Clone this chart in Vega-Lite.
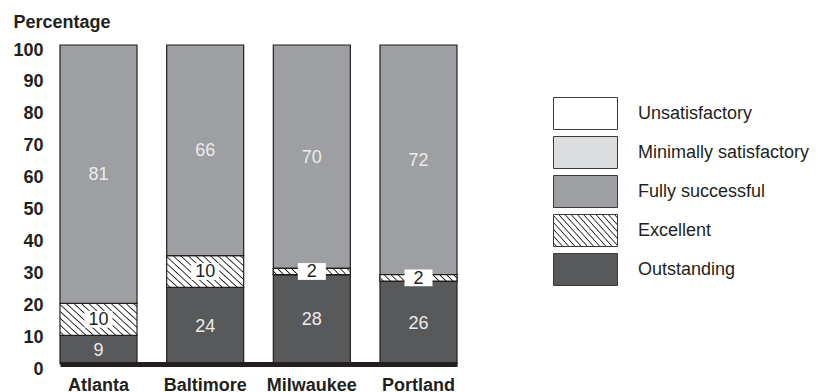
{
  "$schema": "https://vega.github.io/schema/vega-lite/v6.json",
  "autosize": {"type": "none"},
  "padding": {"left": 60, "top": 45, "right": 362, "bottom": 28},
  "width": 397,
  "height": 319,
  "config": {"view": {"stroke": null}, "font": "Liberation Sans", "axisY": {"labelOverlap": false}},
  "data": {
    "values": [
      {"city": "Atlanta", "rating": "Outstanding", "value": 9, "rank": 1},
      {"city": "Atlanta", "rating": "Excellent", "value": 10, "rank": 2},
      {"city": "Atlanta", "rating": "Fully successful", "value": 81, "rank": 3},
      {"city": "Baltimore", "rating": "Outstanding", "value": 24, "rank": 1},
      {"city": "Baltimore", "rating": "Excellent", "value": 10, "rank": 2},
      {"city": "Baltimore", "rating": "Fully successful", "value": 66, "rank": 3},
      {"city": "Milwaukee", "rating": "Outstanding", "value": 28, "rank": 1},
      {"city": "Milwaukee", "rating": "Excellent", "value": 2, "rank": 2},
      {"city": "Milwaukee", "rating": "Fully successful", "value": 70, "rank": 3},
      {"city": "Portland", "rating": "Outstanding", "value": 26, "rank": 1},
      {"city": "Portland", "rating": "Excellent", "value": 2, "rank": 2},
      {"city": "Portland", "rating": "Fully successful", "value": 72, "rank": 3}
    ]
  },
  "transform": [
    {"stack": "value", "groupby": ["city"], "sort": [{"field": "rank", "order": "ascending"}], "as": ["y0", "y1"]},
    {"calculate": "(datum.y0 + datum.y1) / 2", "as": "ymid"}
  ],
  "encoding": {
    "x": {
      "field": "city", "type": "nominal",
      "sort": ["Atlanta", "Baltimore", "Milwaukee", "Portland"],
      "scale": {"paddingInner": 0.278, "paddingOuter": 0},
      "axis": {
        "title": null, "labelAngle": 0, "labelFontWeight": "bold", "labelFontSize": 18,
        "labelColor": "#231f20", "ticks": false, "labelPadding": 12,
        "domainColor": "#231f20", "domainWidth": 5, "zindex": 1
      }
    }
  },
  "layer": [
    {
      "mark": {"type": "bar", "stroke": "#231f20", "strokeWidth": 1.2},
      "encoding": {
        "y": {
          "field": "y0", "type": "quantitative",
          "scale": {"domain": [0, 100]},
          "axis": {
            "title": "Percentage", "titleAngle": 0, "titleAlign": "left", "titleBaseline": "alphabetic",
            "titleX": -47, "titleY": -18, "titleFontSize": 18, "titleFontWeight": "bold", "titleColor": "#231f20",
            "labelFontWeight": "bold", "labelFontSize": 18, "labelColor": "#231f20", "labelOverlap": false,
            "ticks": false, "domain": false, "grid": false, "labelPadding": 17, "labelOffset": 5, "tickCount": 11,
            "labelFlush": false, "values": [0, 10, 20, 30, 40, 50, 60, 70, 80, 90, 100]
          }
        },
        "y2": {"field": "y1"},
        "color": {
          "field": "rating", "type": "nominal",
          "scale": {
            "domain": ["Unsatisfactory", "Minimally satisfactory", "Fully successful", "Excellent", "Outstanding"],
            "range": ["#ffffff", "#dcddde", "#9e9fa2",
              {"expr": "{gradient: 'linear', x1: 0, y1: 1, x2: 1.206, y2: 0.457, stops: [{offset: 0.0213, color: '#ffffff'}, {offset: 0.0333, color: '#231f20'}, {offset: 0.0453, color: '#ffffff'}, {offset: 0.088, color: '#ffffff'}, {offset: 0.1, color: '#231f20'}, {offset: 0.112, color: '#ffffff'}, {offset: 0.1547, color: '#ffffff'}, {offset: 0.1667, color: '#231f20'}, {offset: 0.1787, color: '#ffffff'}, {offset: 0.2213, color: '#ffffff'}, {offset: 0.2333, color: '#231f20'}, {offset: 0.2453, color: '#ffffff'}, {offset: 0.288, color: '#ffffff'}, {offset: 0.3, color: '#231f20'}, {offset: 0.312, color: '#ffffff'}, {offset: 0.3547, color: '#ffffff'}, {offset: 0.3667, color: '#231f20'}, {offset: 0.3787, color: '#ffffff'}, {offset: 0.4213, color: '#ffffff'}, {offset: 0.4333, color: '#231f20'}, {offset: 0.4453, color: '#ffffff'}, {offset: 0.488, color: '#ffffff'}, {offset: 0.5, color: '#231f20'}, {offset: 0.512, color: '#ffffff'}, {offset: 0.5547, color: '#ffffff'}, {offset: 0.5667, color: '#231f20'}, {offset: 0.5787, color: '#ffffff'}, {offset: 0.6213, color: '#ffffff'}, {offset: 0.6333, color: '#231f20'}, {offset: 0.6453, color: '#ffffff'}, {offset: 0.688, color: '#ffffff'}, {offset: 0.7, color: '#231f20'}, {offset: 0.712, color: '#ffffff'}, {offset: 0.7547, color: '#ffffff'}, {offset: 0.7667, color: '#231f20'}, {offset: 0.7787, color: '#ffffff'}, {offset: 0.8213, color: '#ffffff'}, {offset: 0.8333, color: '#231f20'}, {offset: 0.8453, color: '#ffffff'}, {offset: 0.888, color: '#ffffff'}, {offset: 0.9, color: '#231f20'}, {offset: 0.912, color: '#ffffff'}, {offset: 0.9547, color: '#ffffff'}, {offset: 0.9667, color: '#231f20'}, {offset: 0.9787, color: '#ffffff'}]}"},
              "#58595b"]
          },
          "legend": {
            "orient": "none", "legendX": 509, "legendY": 52, "title": null,
            "symbolType": "M-2,-1H2V1H-2Z", "symbolSize": 1024,
            "symbolStrokeColor": "#3a3a3a", "symbolStrokeWidth": 1, "symbolOpacity": 1,
            "labelFontSize": 18, "labelColor": "#231f20", "labelOffset": 36, "rowPadding": 2, "labelLimit": 300,
            "encode": {
              "symbols": {
                "update": {
                  "stroke": {"value": "#3a3a3a"},
                  "strokeWidth": {"value": 1}
                }
              }
            }
          }
        }
      }
    },
    {
      "transform": [{"filter": "datum.rating === 'Excellent' && datum.value < 5"}],
      "mark": {
        "type": "bar", "stroke": "#231f20", "strokeWidth": 1.2,
        "fill": {"gradient": "linear", "x1": 0, "y1": 1, "x2": 1.076, "y2": 0.911, "stops": [
          {"offset": 0.0267, "color": "#ffffff"}, {"offset": 0.0417, "color": "#231f20"}, {"offset": 0.0567, "color": "#ffffff"},
          {"offset": 0.11, "color": "#ffffff"}, {"offset": 0.125, "color": "#231f20"}, {"offset": 0.14, "color": "#ffffff"},
          {"offset": 0.1933, "color": "#ffffff"}, {"offset": 0.2083, "color": "#231f20"}, {"offset": 0.2233, "color": "#ffffff"},
          {"offset": 0.2767, "color": "#ffffff"}, {"offset": 0.2917, "color": "#231f20"}, {"offset": 0.3067, "color": "#ffffff"},
          {"offset": 0.36, "color": "#ffffff"}, {"offset": 0.375, "color": "#231f20"}, {"offset": 0.39, "color": "#ffffff"},
          {"offset": 0.4433, "color": "#ffffff"}, {"offset": 0.4583, "color": "#231f20"}, {"offset": 0.4733, "color": "#ffffff"},
          {"offset": 0.5267, "color": "#ffffff"}, {"offset": 0.5417, "color": "#231f20"}, {"offset": 0.5567, "color": "#ffffff"},
          {"offset": 0.61, "color": "#ffffff"}, {"offset": 0.625, "color": "#231f20"}, {"offset": 0.64, "color": "#ffffff"},
          {"offset": 0.6933, "color": "#ffffff"}, {"offset": 0.7083, "color": "#231f20"}, {"offset": 0.7233, "color": "#ffffff"},
          {"offset": 0.7767, "color": "#ffffff"}, {"offset": 0.7917, "color": "#231f20"}, {"offset": 0.8067, "color": "#ffffff"},
          {"offset": 0.86, "color": "#ffffff"}, {"offset": 0.875, "color": "#231f20"}, {"offset": 0.89, "color": "#ffffff"},
          {"offset": 0.9433, "color": "#ffffff"}, {"offset": 0.9583, "color": "#231f20"}, {"offset": 0.9733, "color": "#ffffff"}
        ]}
      },
      "encoding": {
        "y": {
          "field": "y0", "type": "quantitative",
          "axis": {
            "title": "Percentage", "titleAngle": 0, "titleAlign": "left", "titleBaseline": "alphabetic",
            "titleX": -47, "titleY": -18, "titleFontSize": 18, "titleFontWeight": "bold", "titleColor": "#231f20",
            "labelFontWeight": "bold", "labelFontSize": 18, "labelColor": "#231f20", "labelOverlap": false,
            "ticks": false, "domain": false, "grid": false, "labelPadding": 17, "labelOffset": 5, "tickCount": 11,
            "labelFlush": false, "values": [0, 10, 20, 30, 40, 50, 60, 70, 80, 90, 100]
          }
        },
        "y2": {"field": "y1"}
      }
    },
    {
      "transform": [{"filter": "datum.rating === 'Excellent'"}],
      "mark": {"type": "point", "shape": "M-1,-0.6H1V0.6H-1Z", "filled": true, "fill": "#ffffff", "opacity": 1, "size": 784, "strokeWidth": 0},
      "encoding": {
        "y": {
          "field": "ymid", "type": "quantitative",
          "axis": {
            "title": "Percentage", "titleAngle": 0, "titleAlign": "left", "titleBaseline": "alphabetic",
            "titleX": -47, "titleY": -18, "titleFontSize": 18, "titleFontWeight": "bold", "titleColor": "#231f20",
            "labelFontWeight": "bold", "labelFontSize": 18, "labelColor": "#231f20", "labelOverlap": false,
            "ticks": false, "domain": false, "grid": false, "labelPadding": 17, "labelOffset": 5, "tickCount": 11,
            "labelFlush": false, "values": [0, 10, 20, 30, 40, 50, 60, 70, 80, 90, 100]
          }
        }
      }
    },
    {
      "mark": {"type": "text", "fontSize": 18, "dy": 1},
      "encoding": {
        "y": {
          "field": "ymid", "type": "quantitative",
          "axis": {
            "title": "Percentage", "titleAngle": 0, "titleAlign": "left", "titleBaseline": "alphabetic",
            "titleX": -47, "titleY": -18, "titleFontSize": 18, "titleFontWeight": "bold", "titleColor": "#231f20",
            "labelFontWeight": "bold", "labelFontSize": 18, "labelColor": "#231f20", "labelOverlap": false,
            "ticks": false, "domain": false, "grid": false, "labelPadding": 17, "labelOffset": 5, "tickCount": 11,
            "labelFlush": false, "values": [0, 10, 20, 30, 40, 50, 60, 70, 80, 90, 100]
          }
        },
        "text": {"field": "value", "type": "quantitative"},
        "color": {"condition": {"test": "datum.rating === 'Excellent'", "value": "#231f20"}, "value": "#ececec"}
      }
    }
  ]
}
